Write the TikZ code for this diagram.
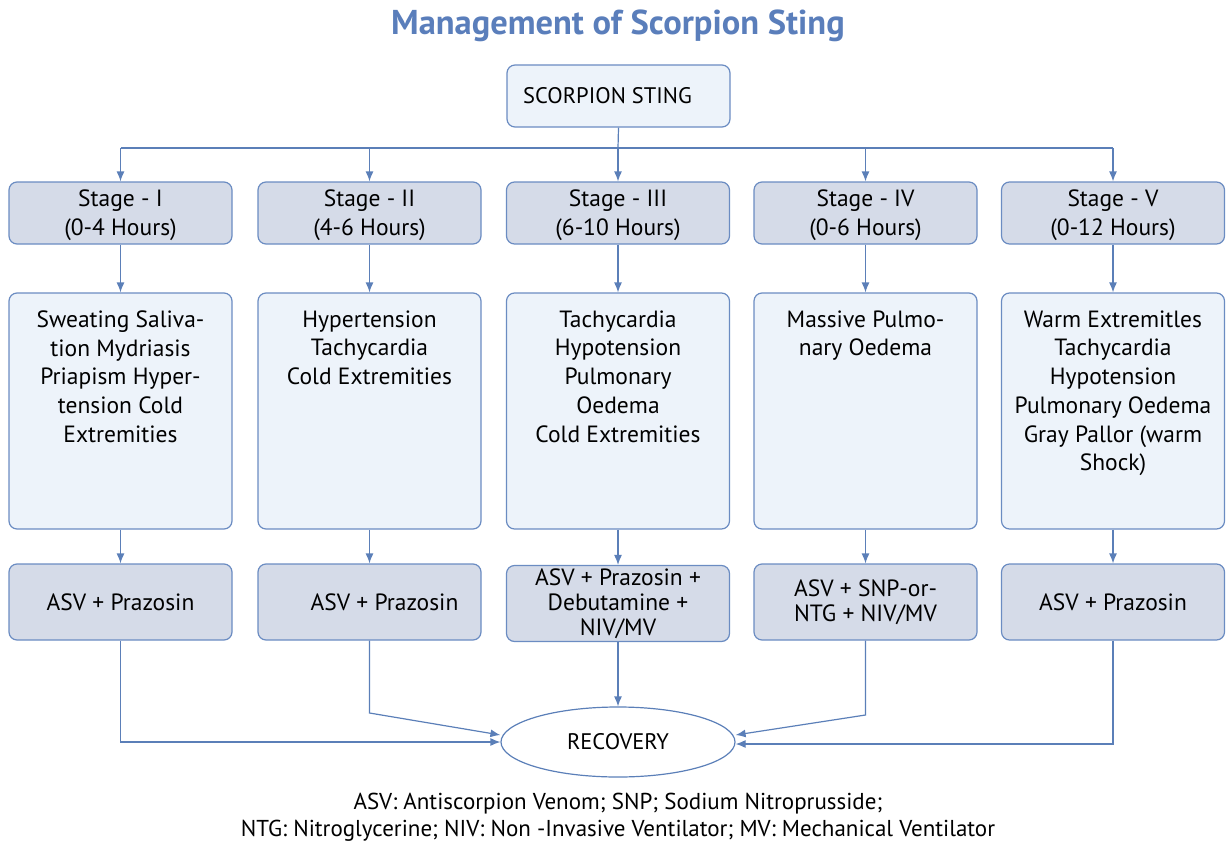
\documentclass[tikz,border=0pt]{standalone}
\usepackage{fontspec}
\setmainfont{PT Sans}
\usetikzlibrary{arrows.meta,shapes.geometric}
\definecolor{bord}{HTML}{6B8CC2}
\definecolor{arr}{HTML}{5B7FB8}
\definecolor{titlec}{HTML}{5A7EBB}
\definecolor{stagefill}{HTML}{D5DBE8}
\definecolor{lightfill}{HTML}{EDF3FA}
\begin{document}
\begin{tikzpicture}[x=1pt,y=-1pt,
  box/.style={draw=bord,line width=1.2pt,rounded corners=8pt,minimum width=223pt,inner sep=0pt},
  stagebox/.style={box,fill=stagefill,minimum height=62pt,align=center,
     font=\fontsize{23.5}{29}\selectfont},
  symbox/.style={box,fill=lightfill,minimum height=236pt},
  symtxt/.style={align=center,inner sep=0pt,font=\fontsize{23.5}{28.7}\selectfont,anchor=north},
  trbox/.style={box,fill=stagefill,minimum height=76pt,align=center,
     font=\fontsize{23.5}{25}\selectfont},
  conn/.style={draw=arr,line width=1.2pt},
  arrow/.style={conn,-{Latex[length=10pt,width=8pt]}}
]
\useasboundingbox (0,0) rectangle (1226,843);
\node[font=\fontsize{34.5}{40}\selectfont\bfseries,text=titlec] (title) at (618,26) {Management of Scorpion Sting};
\node[box,fill=lightfill,minimum height=62pt,font=\fontsize{22.5}{29}\selectfont] (top) at (618.5,96) {\hspace{-22pt}SCORPION STING};
% stages
\node[stagebox] (st1) at (120.5,213) {\rule{0pt}{22pt}Stage - I\\(0-4 Hours)};
\node[stagebox] (st2) at (369.5,213) {\rule{0pt}{22pt}Stage - II\\(4-6 Hours)};
\node[stagebox] (st3) at (618,213) {\rule{0pt}{22pt}Stage - III\\(6-10 Hours)};
\node[stagebox] (st4) at (865.5,213) {\rule{0pt}{22pt}Stage - IV\\(0-6 Hours)};
\node[stagebox] (st5) at (1113,213) {\rule{0pt}{22pt}Stage - V\\(0-12 Hours)};
% symptoms
\node[symbox] (s1) at (120.5,411) {};
\node[symbox] (s2) at (369.5,411) {};
\node[symbox] (s3) at (618,411) {};
\node[symbox] (s4) at (865.5,411) {};
\node[symbox] (s5) at (1113,411) {};
\node[symtxt] (s1t) at ([yshift=-18pt]s1.north) {Sweating Saliva-\\tion Mydriasis\\Priapism Hyper-\\tension Cold\\Extremities};
\node[symtxt] (s2t) at ([yshift=-18pt]s2.north) {Hypertension\\Tachycardia\\Cold Extremities};
\node[symtxt] (s3t) at ([yshift=-18pt]s3.north) {Tachycardia\\Hypotension\\Pulmonary\\Oedema\\Cold Extremities};
\node[symtxt] (s4t) at ([yshift=-18pt]s4.north) {Massive Pulmo-\\nary Oedema};
\node[symtxt] (s5t) at ([yshift=-18pt]s5.north) {Warm Extremitles\\Tachycardia\\Hypotension\\Pulmonary Oedema\\Gray Pallor (warm\\Shock)};
% treatments
\node[trbox] (t1) at (120.5,602) {ASV + Prazosin};
\node[trbox] (t2) at (369.5,602) {\hspace{30pt}ASV + Prazosin};
\node[trbox] (t3) at (618,603.5) {ASV + Prazosin +\\Debutamine +\\NIV/MV};
\node[trbox] (t4) at (865.5,602) {ASV + SNP-or-\\NTG + NIV/MV};
\node[trbox] (t5) at (1113,602) {ASV + Prazosin};
% recovery
\node[ellipse,draw=arr,line width=1.2pt,minimum width=234pt,minimum height=70pt,inner sep=0pt,
  font=\fontsize{22.5}{24}\selectfont] (rec) at (618,742) {RECOVERY};
% footnote
\node[align=center,font=\fontsize{23}{27}\selectfont] (foot) at (618,817.5)
  {ASV: Antiscorpion Venom; SNP; Sodium Nitroprusside;\\NTG: Nitroglycerine; NIV: Non -Invasive Ventilator; MV: Mechanical Ventilator};
% bus
\coordinate (bus) at (618,148);
\coordinate (busL) at (120.5,148);
\coordinate (busR) at (1113,148);
\draw[conn] (busL) -- (busR);
\draw[conn] (top.south) -- (bus);
\draw[arrow] (bus) -- (st3.north);
\draw[arrow] (busL) -- (st1.north);
\draw[arrow] (st2.north |- bus) -- (st2.north);
\draw[arrow] (st4.north |- bus) -- (st4.north);
\draw[arrow] (busR) -- (st5.north);
\foreach \i in {1,...,5}{
  \draw[arrow] (st\i.south) -- (s\i.north);
  \draw[arrow] (s\i.south) -- (t\i.north);
}
% to recovery
\coordinate (b2) at (369.5,713);
\coordinate (b4) at (865.5,715);
\draw[arrow] (t1.south) |- (rec.west);
\draw[arrow] (t2.south) -- (b2) -- ([yshift=7pt]rec.west);
\draw[arrow] (t3.south) -- (rec.north);
\draw[arrow] (t4.south) -- (b4) -- ([yshift=7pt]rec.east);
\draw[arrow] (t5.south) |- ([yshift=-2pt]rec.east);
\end{tikzpicture}
\end{document}
